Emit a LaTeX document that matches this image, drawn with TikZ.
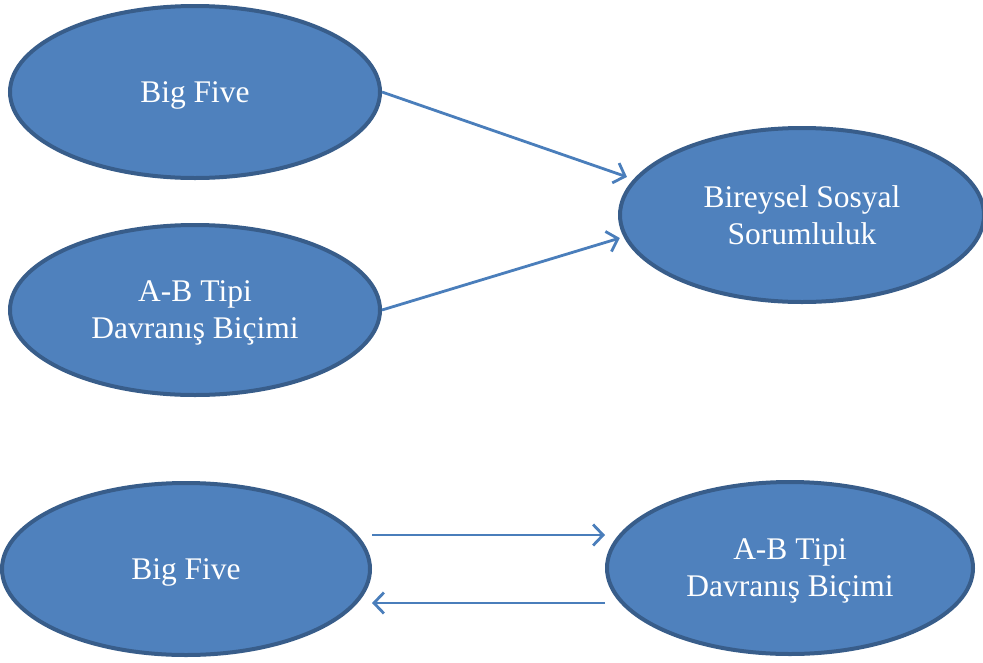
\documentclass[tikz,border=0pt]{standalone}
\usepackage{fontspec}
\setmainfont{Liberation Serif}
\usetikzlibrary{arrows.meta,shapes.geometric,calc}
\definecolor{fillblue}{HTML}{4F81BD}
\definecolor{edgeblue}{HTML}{385D8A}
\definecolor{arrowblue}{HTML}{4A7EBB}
\tikzset{
  oval/.style={ellipse, draw=edgeblue, fill=fillblue, line width=4pt, inner sep=0pt,
    text=white, align=center, text depth=0pt, font=\fontsize{31.5}{37}\selectfont},
  arr/.style={draw=arrowblue, line width=2.8pt, -{Straight Barb[length=10pt,width=21pt,line width=2.8pt]}}
}
\begin{document}
\begin{tikzpicture}[x=1pt,y=-1pt]
\useasboundingbox (0,0) rectangle (983,662);
\node[oval, minimum width=370pt, minimum height=172pt] (a) at (195,92) {Big Five};
\node[oval, minimum width=370pt, minimum height=170pt] (b) at (195,310) {A-B Tipi\\Davranış Biçimi};
\node[oval, minimum width=364pt, minimum height=174pt] (c) at (802,215) {Bireysel Sosyal\\Sorumluluk};
\node[oval, minimum width=368pt, minimum height=172pt] (d) at (186,569) {Big Five};
\node[oval, minimum width=366pt, minimum height=172pt] (e) at (790,568) {A-B Tipi\\Davranış Biçimi};
\draw[arr, shorten >=7pt] (a.east) -- (c.168);
\draw[arr, shorten >=4pt] (b.east) -- (c.187);
\draw[arr] ([yshift=34pt]d.east) -- ([yshift=33pt]e.west);
\draw[arr] ([yshift=-35pt]e.west) -- ([yshift=-34pt]d.east);
\end{tikzpicture}
\end{document}
